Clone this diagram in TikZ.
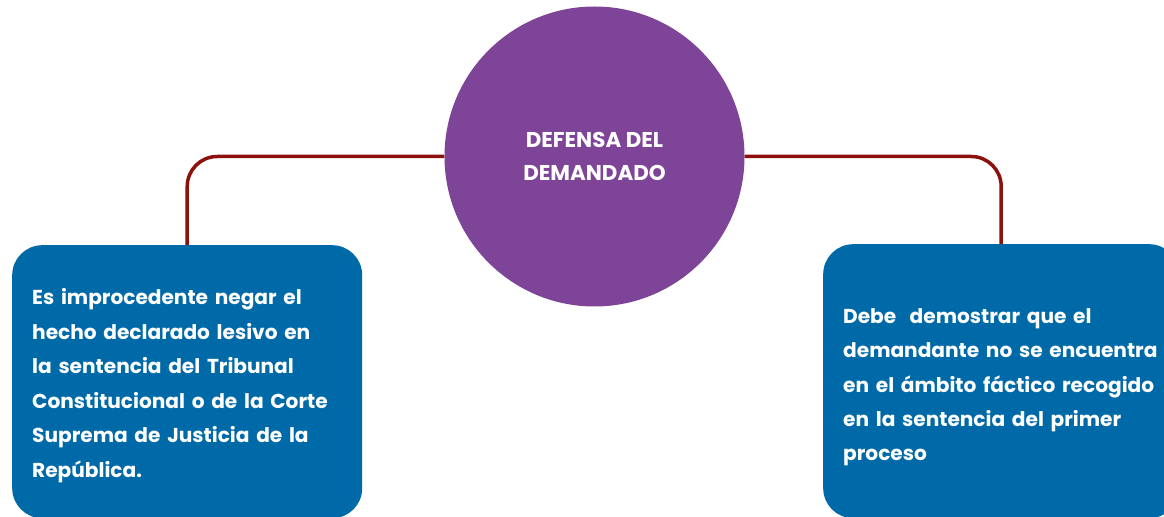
\documentclass[tikz,border=0pt]{standalone}
\usepackage{fontspec}
\setmainfont{Poppins}
\usepackage{xcolor}
\usepackage{tikz}
\usetikzlibrary{positioning}
\definecolor{HubPurple}{RGB}{126,68,151}
\definecolor{CardBlue}{RGB}{0,106,168}
\definecolor{LinkRed}{RGB}{140,16,12}
\tikzset{
  hub/.style={circle, fill=HubPurple, minimum size=300bp, inner sep=0pt, text=white,
    align=center, font=\fontsize{21.5}{34}\selectfont\bfseries},
  card/.style={fill=CardBlue, rounded corners=30bp, text=white, align=left, inner sep=20bp,
    font=\fontsize{20.2}{34.6}\selectfont\bfseries, anchor=north west},
  link/.style={LinkRed, line width=3.5bp, rounded corners=30bp},
}
\begin{document}
\begin{tikzpicture}[x=1bp, y=-1bp]
  \useasboundingbox (0,0) rectangle (1164,517);
  \clip (0,0) rectangle (1164,517);
  % central circle
  \node[hub] (hub) at (594.5,156.5) {DEFENSA DEL\\DEMANDADO};
  % cards
  \node[card, text width=310bp, minimum height=273bp] (left) at (12,245)
    {\rule{0pt}{24bp}Es improcedente negar el\\hecho declarado lesivo en\\la sentencia del Tribunal\\Constitucional o de la Corte\\Suprema de Justicia de la\\República.};
  \node[card, text width=316bp, minimum height=274bp] (right) at (823,244)
    {\rule{0pt}{27bp}Debe \ demostrar que el\\demandante no se encuentra\\en el ámbito fáctico recogido\\en la sentencia del primer\\proceso};
  % connectors
  \draw[link] (hub.west) -| (left.north);
  \draw[link] (hub.east) -| (right.north);
\end{tikzpicture}
\end{document}
